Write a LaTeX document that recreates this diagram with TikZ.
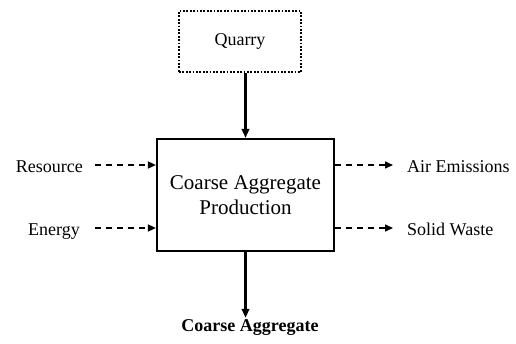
\documentclass[tikz,border=0pt]{standalone}
\usepackage{fontspec}
\setmainfont{Liberation Serif}
\usetikzlibrary{arrows.meta}

\tikzset{
  label text/.style={font=\fontsize{18}{21}\selectfont, inner sep=0pt,
                     text height=0.7em, text depth=0.2em},
  process box/.style={draw, line width=2.2pt, minimum width=177pt,
                      minimum height=112pt, align=center,
                      font=\fontsize{21}{25}\selectfont},
  source box/.style={draw, line width=1.8pt, dash pattern=on 1.8pt off 1.6pt,
                     minimum width=122pt, minimum height=61pt,
                     font=\fontsize{18}{21}\selectfont},
  main flow/.style={line width=2.2pt, -{Triangle[length=9pt,width=7.5pt]}},
  side flow/.style={line width=1.5pt, dash pattern=on 6pt off 5pt,
                    -{Triangle[length=8pt,width=7pt]}}
}

\begin{document}
\begin{tikzpicture}[x=1pt, y=-1pt]
  \useasboundingbox (0,0) rectangle (516,343);

  % unit process and its upstream source
  \node[source box]  (quarry) at (240,41.5) {Quarry};
  \node[process box] (prod)   at (245.5,195) {Coarse Aggregate\\Production};

  % inputs on the left
  \node[label text, anchor=base east] (resource) at (83,172) {Resource};
  \node[label text, anchor=base east] (energy)   at (80,235) {Energy};

  % outputs on the right
  \node[label text, anchor=base west] (air)   at (407,172) {Air Emissions};
  \node[label text, anchor=base west] (solid) at (407,235) {Solid Waste};

  % product
  \node[label text, anchor=base, font=\fontsize{18}{21}\selectfont\bfseries]
       (product) at (250,331) {Coarse Aggregate};

  % connectors
  \draw[main flow] (prod.north |- quarry.south) -- (prod.north);
  \draw[main flow, shorten >=6pt] (prod.south) -- (prod.south |- product.north);

  \draw[side flow] ([xshift=12pt,yshift=7pt]resource.base east)
                   -- ([yshift=7pt]resource.base east -| prod.west);
  \draw[side flow] ([xshift=15pt,yshift=7pt]energy.base east)
                   -- ([yshift=7pt]energy.base east -| prod.west);
  \draw[side flow, shorten >=14pt] ([yshift=7pt]air.base west -| prod.east)
                   -- ([yshift=7pt]air.base west);
  \draw[side flow, shorten >=14pt] ([yshift=7pt]solid.base west -| prod.east)
                   -- ([yshift=7pt]solid.base west);
\end{tikzpicture}
\end{document}
